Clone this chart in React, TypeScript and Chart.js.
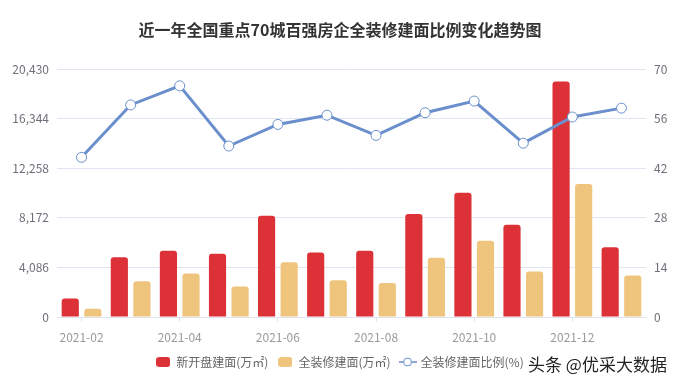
import React, { useEffect, useRef } from "react";
import { Chart, registerables } from "chart.js";

Chart.register(...registerables);

const months = ["2021-02", "2021-03", "2021-04", "2021-05", "2021-06", "2021-07", "2021-08", "2021-09", "2021-10", "2021-11", "2021-12", "2022-01"];
const newOpenArea = [1515, 4935, 5460, 5210, 8350, 5320, 5460, 8490, 10250, 7610, 19410, 5760];
const fullDecoArea = [690, 2950, 3580, 2510, 4520, 3030, 2810, 4880, 6290, 3750, 10970, 3420];
const fullDecoRatio = [45.1, 59.9, 65.3, 48.3, 54.4, 57.0, 51.3, 57.7, 61.0, 49.1, 56.5, 59.0];
const leftMax = 20430;
const leftStep = 4086;
const rightMax = 70;
const rightStep = 14;
const seriesNames = ["新开盘建面(万㎡)", "全装修建面(万㎡)", "全装修建面比例(%)"];
const titleText = "近一年全国重点70城百强房企全装修建面比例变化趋势图";
const watermark = "头条 @优采大数据";

const RED = "#DC3137";
const YELLOW = "#EFC47D";
const BLUE = "#6A8FCC";
const FONT = '"Noto Sans CJK SC", "Noto Sans", sans-serif';

function rectIcon(color: string) {
  const c = document.createElement("canvas");
  c.width = 14;
  c.height = 10;
  const ctx = c.getContext("2d")!;
  ctx.fillStyle = color;
  ctx.beginPath();
  (ctx as any).roundRect(0, 0, 14, 10, 3);
  ctx.fill();
  return c;
}

function lineIcon(color: string) {
  const c = document.createElement("canvas");
  c.width = 18;
  c.height = 10;
  const ctx = c.getContext("2d")!;
  ctx.strokeStyle = color;
  ctx.lineWidth = 1.5;
  ctx.beginPath();
  ctx.moveTo(0, 5);
  ctx.lineTo(18, 5);
  ctx.stroke();
  ctx.beginPath();
  ctx.arc(9, 5, 4, 0, Math.PI * 2);
  ctx.fillStyle = "#fff";
  ctx.fill();
  ctx.lineWidth = 1;
  ctx.stroke();
  return c;
}

export default function App() {
  const ref = useRef<HTMLCanvasElement>(null);

  useEffect(() => {
    if (!ref.current) return;
    const icons = [rectIcon(RED), rectIcon(YELLOW), lineIcon(BLUE)];
    const chart = new Chart(ref.current, {
      type: "bar",
      data: {
        labels: months,
        datasets: [
          {
            type: "bar",
            label: seriesNames[0],
            data: newOpenArea,
            backgroundColor: RED,
            borderRadius: { topLeft: 3, topRight: 3, bottomLeft: 0, bottomRight: 0 },
            borderSkipped: false,
            yAxisID: "y",
            order: 1,
            categoryPercentage: 0.92,
            barPercentage: 0.76,
          } as any,
          {
            type: "bar",
            label: seriesNames[1],
            data: fullDecoArea,
            backgroundColor: YELLOW,
            borderRadius: { topLeft: 3, topRight: 3, bottomLeft: 0, bottomRight: 0 },
            borderSkipped: false,
            yAxisID: "y",
            order: 1,
            categoryPercentage: 0.92,
            barPercentage: 0.76,
          } as any,
          {
            type: "line",
            label: seriesNames[2],
            data: fullDecoRatio,
            borderColor: BLUE,
            borderWidth: 3,
            pointRadius: 5,
            pointHoverRadius: 5,
            pointBackgroundColor: "#fff",
            pointBorderColor: BLUE,
            pointBorderWidth: 1,
            tension: 0,
            yAxisID: "y1",
            order: 0,
          } as any,
        ],
      },
      options: {
        responsive: false,
        animation: false,
        layout: { padding: { left: 0, right: 0, top: 0, bottom: 5 } },
        font: { family: FONT },
        plugins: {
          title: {
            display: true,
            text: titleText,
            color: "#333",
            font: { family: FONT, size: 16, weight: "bold" },
            padding: { top: 20, bottom: 30 },
          },
          legend: {
            position: "bottom",
            labels: {
              usePointStyle: true,
              pointStyleWidth: 14,
              boxHeight: 10,
              padding: 10,
              color: "#666",
              font: { family: FONT, size: 12 },
              generateLabels: () =>
                seriesNames.map((n, i) => ({
                  text: n,
                  pointStyle: icons[i] as any,
                  datasetIndex: i,
                  fillStyle: "#fff",
                  strokeStyle: "#fff",
                  lineWidth: 0,
                  fontColor: "#666",
                  hidden: false,
                })),
            },
          },
          tooltip: { enabled: false },
        },
        scales: {
          x: {
            afterFit: (s: any) => {
              s.height = 29;
            },
            grid: { drawOnChartArea: false, offset: false, tickLength: 5, color: "#E0E6F1" },
            border: { color: "#E0E6F1" },
            ticks: {
              autoSkip: false,
              maxRotation: 0,
              color: "#9A9A9A",
              padding: 8,
              font: { family: FONT, size: 12 },
              callback: (_v: any, i: number) => (i % 2 === 0 ? months[i] : null),
            },
          },
          y: {
            position: "left",
            min: 0,
            max: leftMax,
            afterFit: (s: any) => {
              s.width = 57;
            },
            ticks: {
              stepSize: leftStep,
              color: "#6E7079",
              padding: 8,
              font: { family: FONT, size: 12 },
            },
            grid: { color: "#E0E6F1", drawTicks: false },
            border: { display: false },
          },
          y1: {
            position: "right",
            min: 0,
            max: rightMax,
            afterFit: (s: any) => {
              s.width = 34;
            },
            ticks: {
              stepSize: rightStep,
              color: "#6E7079",
              padding: 8,
              font: { family: FONT, size: 12 },
            },
            grid: { drawOnChartArea: false, drawTicks: false },
            border: { display: false },
          },
        },
      } as any,
    });
    return () => chart.destroy();
  }, []);

  return (
    <div style={{ position: "fixed", left: 0, top: 0, width: 680, height: 383, background: "#fff" }}>
      <canvas ref={ref} width={680} height={383} style={{ display: "block" }} />
      <div
        style={{
          position: "absolute",
          left: 528,
          top: 354,
          fontFamily: FONT,
          fontSize: 17,
          lineHeight: "19px",
          color: "#222",
          whiteSpace: "nowrap",
        }}
      >
        {watermark}
      </div>
    </div>
  );
}
